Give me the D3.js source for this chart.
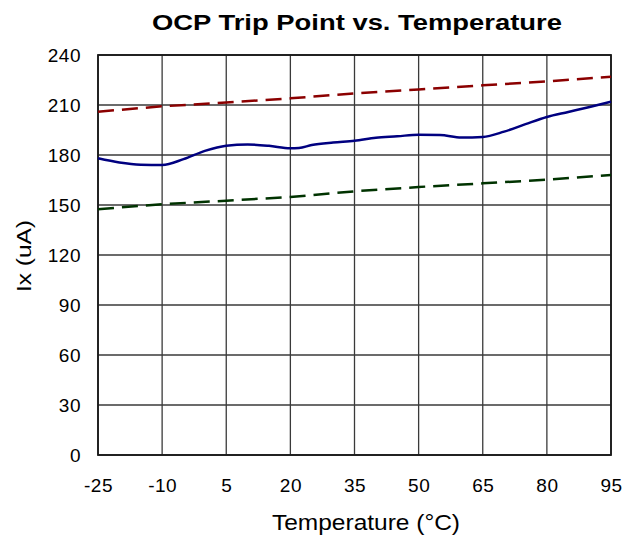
<!DOCTYPE html>
<html>
<head>
<meta charset="utf-8">
<script src="https://cdn.jsdelivr.net/npm/d3@7"></script>
<style>
  body { margin: 0; background: #fff; }
  svg { display: block; font-family: Arial, "Liberation Sans", sans-serif; }
</style>
</head>
<body>
<div id="chart"></div>
<script>
// ── Data ─────────────────────────────────────────────────────
const xTicks = [-25, -10, 5, 20, 35, 50, 65, 80, 95];
const yTicks = [0, 30, 60, 90, 120, 150, 180, 210, 240];

const typTemp = [-25, -20, -15, -10, -5, 0, 5, 10, 15, 20, 22, 25, 30, 35, 40, 45, 50, 55, 60, 65, 70, 75, 80, 85, 90, 95];
const typIx   = [178, 175.5, 174.2, 174, 177.5, 182.5, 185.6, 186.3, 185.5, 184, 184.2, 186, 187.5, 188.5, 190.3, 191.2, 192.2, 192, 190.5, 190.8, 194, 198.5, 202.8, 205.8, 208.8, 212];

const maxTemp = [-25, -10, 5, 20, 35, 50, 65, 80, 95];
const maxIx   = [206, 209.2, 211.5, 214, 217, 219.3, 221.8, 224.2, 227];

const minTemp = [-25, -10, 5, 20, 35, 50, 65, 80, 95];
const minIx   = [147.5, 150.5, 152.6, 154.8, 158.2, 160.8, 163, 165.2, 168];

// ── Layout ───────────────────────────────────────────────────
const width = 641, height = 538;
const margin = { top: 55, right: 30, bottom: 83, left: 98 };
const innerW = width - margin.left - margin.right;
const innerH = height - margin.top - margin.bottom;

const svg = d3.select('#chart').append('svg')
  .attr('width', width)
  .attr('height', height);

const g = svg.append('g')
  .attr('transform', `translate(${margin.left},${margin.top})`);

const x = d3.scaleLinear().domain([-25, 95]).range([0, innerW]);
const y = d3.scaleLinear().domain([0, 240]).range([innerH, 0]);

// ── Grid ─────────────────────────────────────────────────────
g.append('g')
  .selectAll('line')
  .data(xTicks)
  .join('line')
  .attr('x1', d => x(d)).attr('x2', d => x(d))
  .attr('y1', 0).attr('y2', innerH)
  .attr('stroke', '#3a3a3a').attr('stroke-width', 1.3);

g.append('g')
  .selectAll('line')
  .data(yTicks)
  .join('line')
  .attr('x1', 0).attr('x2', innerW)
  .attr('y1', d => y(d)).attr('y2', d => y(d))
  .attr('stroke', '#3a3a3a').attr('stroke-width', 1.3);

g.append('rect')
  .attr('width', innerW).attr('height', innerH)
  .attr('fill', 'none').attr('stroke', '#1a1a1a').attr('stroke-width', 1.8);

// ── Axes (labels only) ───────────────────────────────────────
const xAxis = g.append('g')
  .attr('transform', `translate(0,${innerH})`)
  .call(d3.axisBottom(x).tickValues(xTicks).tickFormat(d => String(d)).tickSize(0).tickPadding(24));
const yAxis = g.append('g')
  .call(d3.axisLeft(y).tickValues(yTicks).tickFormat(d => String(d)).tickSize(0).tickPadding(17));

[xAxis, yAxis].forEach(a => {
  a.select('.domain').remove();
  a.selectAll('text')
    .attr('font-size', 19)
    .attr('letter-spacing', 0.5)
    .attr('font-family', 'Arial, "Liberation Sans", sans-serif')
    .attr('fill', '#000');
});

// ── Lines ────────────────────────────────────────────────────
const line = d3.line()
  .x(d => x(d[0]))
  .y(d => y(d[1]));

g.append('path')
  .datum(d3.zip(maxTemp, maxIx))
  .attr('d', line)
  .attr('fill', 'none')
  .attr('stroke', '#8b0000')
  .attr('stroke-width', 2.5)
  .attr('stroke-dasharray', '16,8');

g.append('path')
  .datum(d3.zip(minTemp, minIx))
  .attr('d', line)
  .attr('fill', 'none')
  .attr('stroke', '#003300')
  .attr('stroke-width', 2.5)
  .attr('stroke-dasharray', '16,8');

g.append('path')
  .datum(d3.zip(typTemp, typIx))
  .attr('d', line.curve(d3.curveMonotoneX))
  .attr('fill', 'none')
  .attr('stroke', '#000080')
  .attr('stroke-width', 2.5);

// ── Titles ───────────────────────────────────────────────────
svg.append('text')
  .attr('x', 152).attr('y', 30)
  .attr('font-size', 22).attr('font-weight', 'bold')
  .attr('textLength', 410).attr('lengthAdjust', 'spacingAndGlyphs')
  .text('OCP Trip Point vs. Temperature');

svg.append('text')
  .attr('x', 272).attr('y', 530)
  .attr('font-size', 22)
  .attr('textLength', 188).attr('lengthAdjust', 'spacingAndGlyphs')
  .text('Temperature (°C)');

svg.append('text')
  .attr('transform', `translate(31,292) rotate(-90)`)
  .attr('font-size', 20)
  .attr('textLength', 72).attr('lengthAdjust', 'spacingAndGlyphs')
  .text('Ix (uA)');
</script>
</body>
</html>
